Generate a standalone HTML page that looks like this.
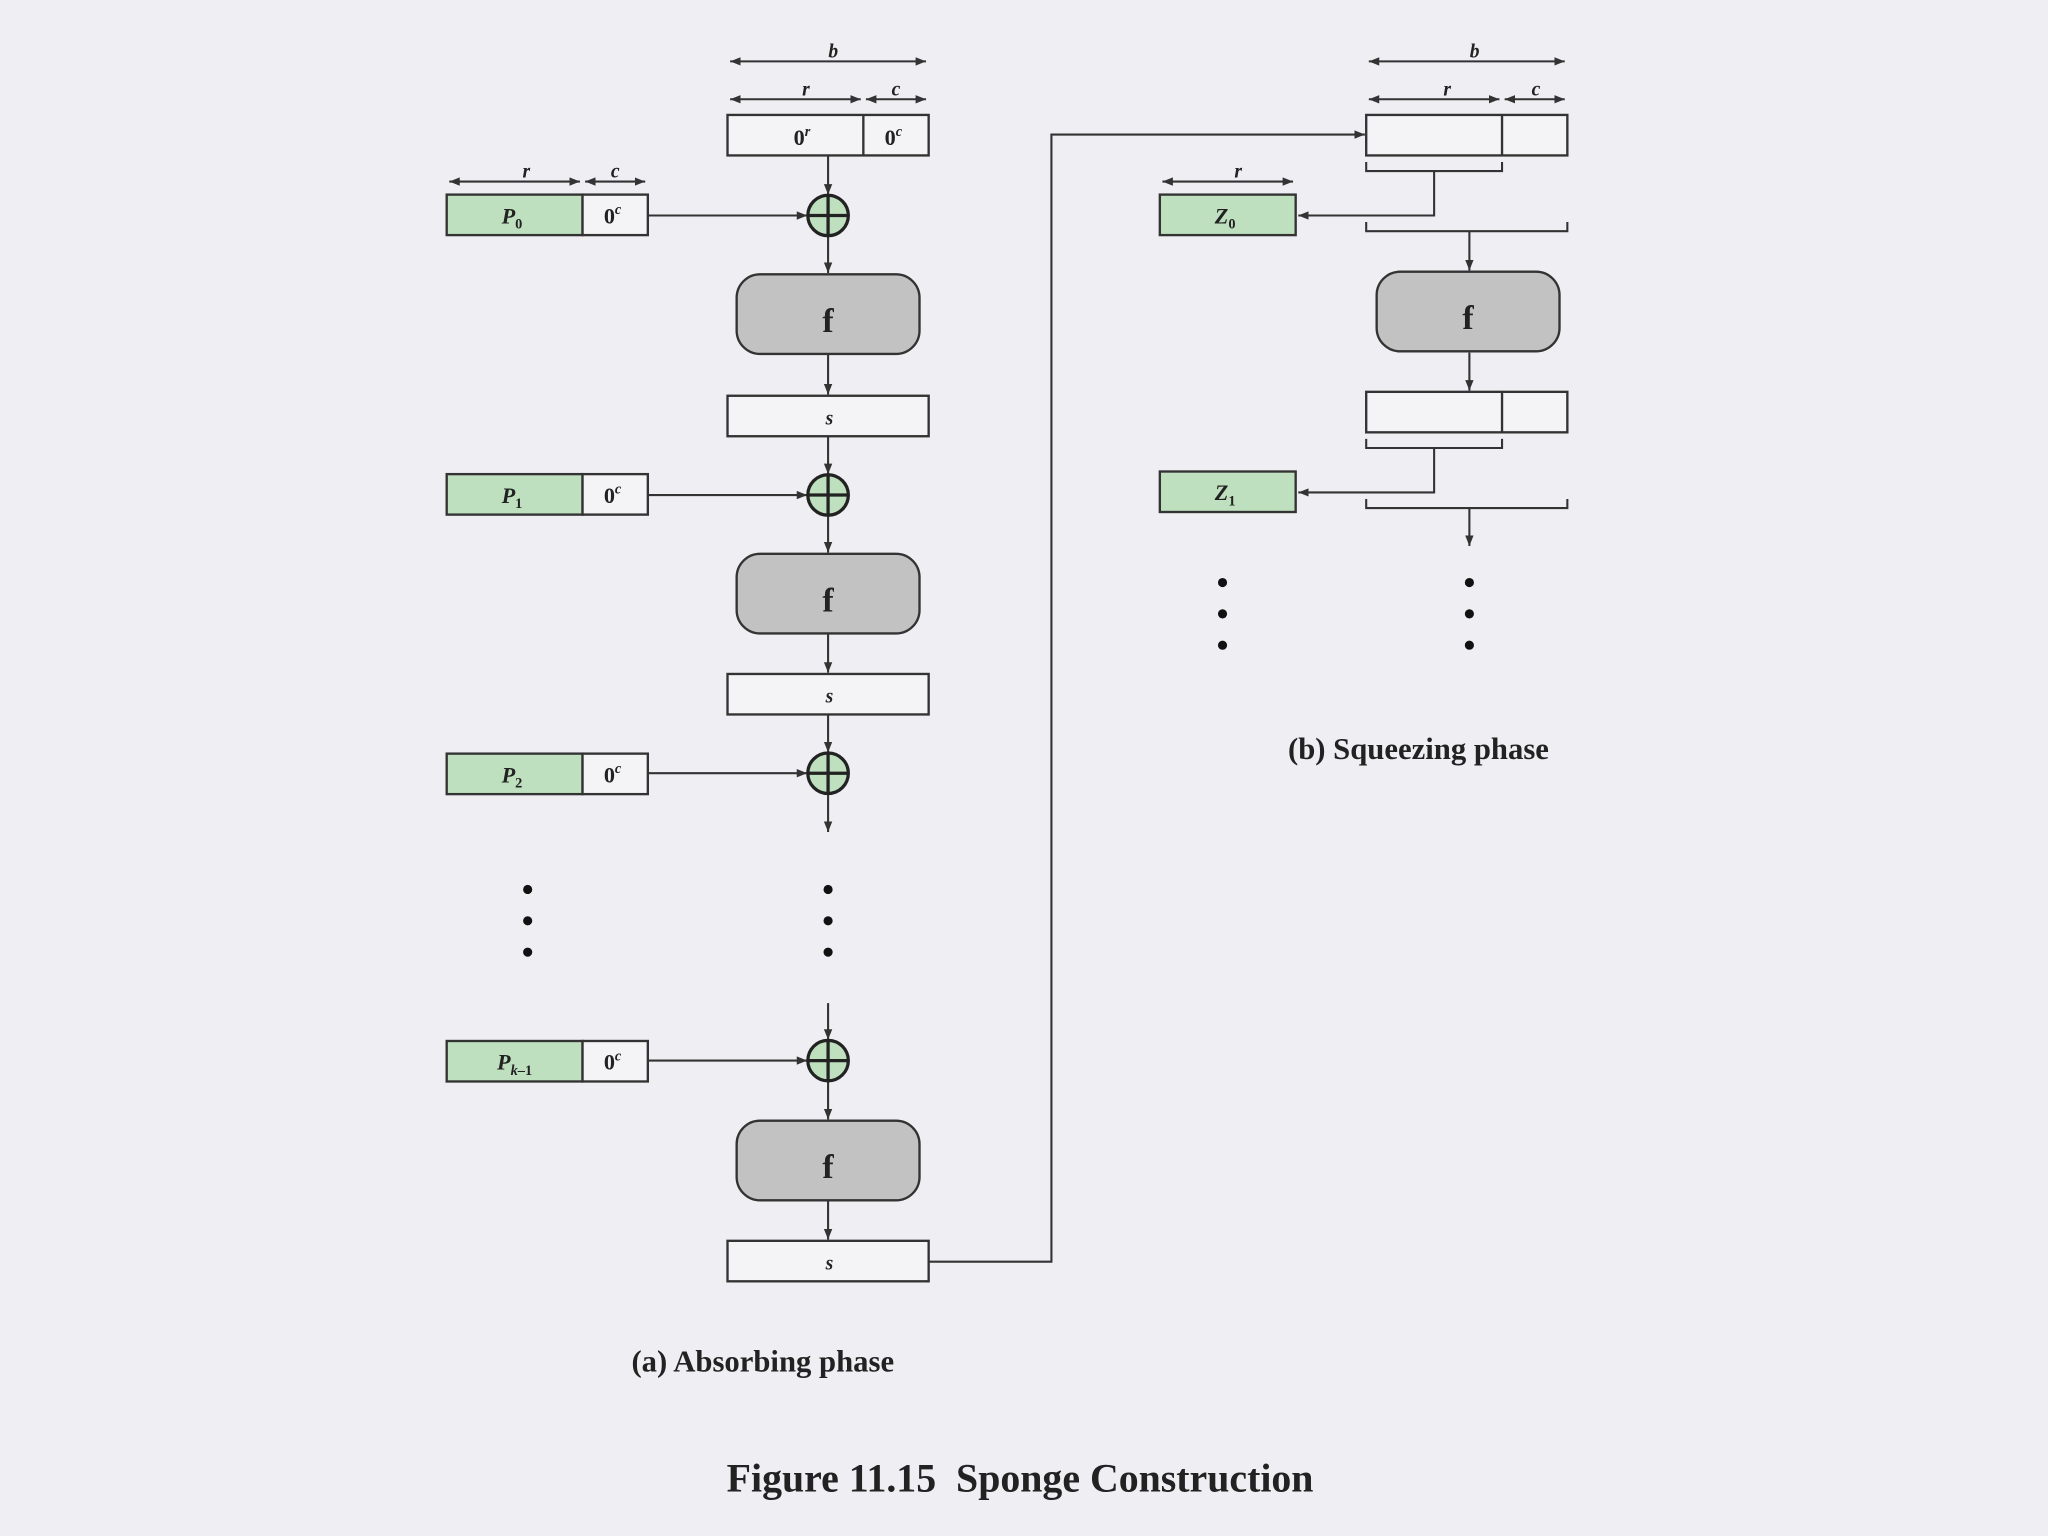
<!DOCTYPE html>
<html><head><meta charset="utf-8"><style>
html,body{margin:0;padding:0;background:#efeff3;}
svg{display:block;}
text{font-family:"Liberation Serif",serif;fill:#222;}
</style></head><body>
<svg width="2048" height="1536" viewBox="0 0 1568 1176" xmlns="http://www.w3.org/2000/svg">
<defs>
<marker id="a" viewBox="0 0 10 10" refX="10" refY="5" markerWidth="8" markerHeight="8" orient="auto-start-reverse" markerUnits="userSpaceOnUse"><path d="M0,1 L10,5 L0,9 z" fill="#333"/></marker>
<g id="xor"><circle r="15.5" fill="#bfe0bf" stroke="#222" stroke-width="2.5"/><path d="M-15.5,0H15.5M0,-15.5V15.5" stroke="#222" stroke-width="2.5"/></g>
<g id="fbox"><rect x="0" y="0" width="140" height="61" rx="18" fill="#c2c2c2" stroke="#333" stroke-width="1.8"/><text x="70" y="44" font-size="26" font-weight="bold" text-anchor="middle">f</text></g>
<g id="sbox"><rect x="0" y="0" width="154" height="31" fill="#f4f4f6" stroke="#333" stroke-width="1.8"/><text x="78" y="22" font-size="15" font-style="italic" font-weight="bold" text-anchor="middle">s</text></g>
</defs>
<rect width="1568" height="1176" fill="#efeff3"/>
<g stroke="#333" stroke-width="1.6" fill="none">
<line x1="559" y1="47" x2="709" y2="47" marker-start="url(#a)" marker-end="url(#a)"/>
<line x1="559" y1="76" x2="659" y2="76" marker-start="url(#a)" marker-end="url(#a)"/>
<line x1="663" y1="76" x2="709" y2="76" marker-start="url(#a)" marker-end="url(#a)"/>
<line x1="344" y1="139" x2="444" y2="139" marker-start="url(#a)" marker-end="url(#a)"/>
<line x1="448" y1="139" x2="494" y2="139" marker-start="url(#a)" marker-end="url(#a)"/>
<line x1="634" y1="119" x2="634" y2="149" marker-end="url(#a)"/>
<line x1="634" y1="181" x2="634" y2="209" marker-end="url(#a)"/>
<line x1="634" y1="271" x2="634" y2="302" marker-end="url(#a)"/>
<line x1="634" y1="334" x2="634" y2="363" marker-end="url(#a)"/>
<line x1="634" y1="395" x2="634" y2="423" marker-end="url(#a)"/>
<line x1="634" y1="485" x2="634" y2="515" marker-end="url(#a)"/>
<line x1="634" y1="547" x2="634" y2="576" marker-end="url(#a)"/>
<line x1="634" y1="608" x2="634" y2="637" marker-end="url(#a)"/>
<line x1="634" y1="768" x2="634" y2="796" marker-end="url(#a)"/>
<line x1="634" y1="828" x2="634" y2="857" marker-end="url(#a)"/>
<line x1="634" y1="919" x2="634" y2="949" marker-end="url(#a)"/>
<line x1="496" y1="165" x2="618" y2="165" marker-end="url(#a)"/>
<line x1="496" y1="379" x2="618" y2="379" marker-end="url(#a)"/>
<line x1="496" y1="592" x2="618" y2="592" marker-end="url(#a)"/>
<line x1="496" y1="812" x2="618" y2="812" marker-end="url(#a)"/>
<polyline points="711,966 805,966 805,103 1045,103" marker-end="url(#a)"/>
<line x1="1048" y1="47" x2="1198" y2="47" marker-start="url(#a)" marker-end="url(#a)"/>
<line x1="1048" y1="76" x2="1148" y2="76" marker-start="url(#a)" marker-end="url(#a)"/>
<line x1="1152" y1="76" x2="1198" y2="76" marker-start="url(#a)" marker-end="url(#a)"/>
<line x1="890" y1="139" x2="990" y2="139" marker-start="url(#a)" marker-end="url(#a)"/>
<polyline points="1046,124 1046,131 1150,131 1150,124"/>
<polyline points="1098,131 1098,165 994,165" marker-end="url(#a)"/>
<polyline points="1046,170 1046,177 1200,177 1200,170"/>
<line x1="1125" y1="177" x2="1125" y2="207" marker-end="url(#a)"/>
<line x1="1125" y1="270" x2="1125" y2="299" marker-end="url(#a)"/>
<polyline points="1046,336 1046,343 1150,343 1150,336"/>
<polyline points="1098,343 1098,377 994,377" marker-end="url(#a)"/>
<polyline points="1046,382 1046,389 1200,389 1200,382"/>
<line x1="1125" y1="389" x2="1125" y2="418" marker-end="url(#a)"/>
</g>
<g font-style="italic" font-weight="bold" font-size="15" text-anchor="middle">
<text x="638" y="44">b</text><text x="617" y="73">r</text><text x="686" y="73">c</text>
<text x="403" y="136">r</text><text x="471" y="136">c</text>
<text x="1129" y="44">b</text><text x="1108" y="73">r</text><text x="1176" y="73">c</text>
<text x="948" y="136">r</text>
</g>
<rect x="557" y="88" width="154" height="31" fill="#f4f4f6" stroke="#333" stroke-width="1.8"/>
<line x1="661" y1="88" x2="661" y2="119" stroke="#333" stroke-width="1.8"/>
<text x="614" y="111" font-size="17" font-weight="bold" text-anchor="middle">0<tspan font-size="11" dy="-7" font-style="italic">r</tspan></text>
<text x="684" y="111" font-size="17" font-weight="bold" text-anchor="middle">0<tspan font-size="11" dy="-7" font-style="italic">c</tspan></text>
<g font-weight="bold">
<g transform="translate(342,149)"><rect width="104" height="31" fill="#bfe0bf" stroke="#333" stroke-width="1.8"/><rect x="104" width="50" height="31" fill="#f4f4f6" stroke="#333" stroke-width="1.8"/><text x="50" y="22" font-size="17" font-style="italic" text-anchor="middle">P<tspan font-size="11" dy="4" font-style="normal">0</tspan></text><text x="127" y="22" font-size="17" text-anchor="middle">0<tspan font-size="11" dy="-7" font-style="italic">c</tspan></text></g>
<g transform="translate(342,363)"><rect width="104" height="31" fill="#bfe0bf" stroke="#333" stroke-width="1.8"/><rect x="104" width="50" height="31" fill="#f4f4f6" stroke="#333" stroke-width="1.8"/><text x="50" y="22" font-size="17" font-style="italic" text-anchor="middle">P<tspan font-size="11" dy="4" font-style="normal">1</tspan></text><text x="127" y="22" font-size="17" text-anchor="middle">0<tspan font-size="11" dy="-7" font-style="italic">c</tspan></text></g>
<g transform="translate(342,577)"><rect width="104" height="31" fill="#bfe0bf" stroke="#333" stroke-width="1.8"/><rect x="104" width="50" height="31" fill="#f4f4f6" stroke="#333" stroke-width="1.8"/><text x="50" y="22" font-size="17" font-style="italic" text-anchor="middle">P<tspan font-size="11" dy="4" font-style="normal">2</tspan></text><text x="127" y="22" font-size="17" text-anchor="middle">0<tspan font-size="11" dy="-7" font-style="italic">c</tspan></text></g>
<g transform="translate(342,797)"><rect width="104" height="31" fill="#bfe0bf" stroke="#333" stroke-width="1.8"/><rect x="104" width="50" height="31" fill="#f4f4f6" stroke="#333" stroke-width="1.8"/><text x="52" y="22" font-size="17" font-style="italic" text-anchor="middle">P<tspan font-size="11" dy="4">k</tspan><tspan font-size="11" font-style="normal">–1</tspan></text><text x="127" y="22" font-size="17" text-anchor="middle">0<tspan font-size="11" dy="-7" font-style="italic">c</tspan></text></g>
</g>
<use href="#xor" x="634" y="165"/><use href="#xor" x="634" y="379"/><use href="#xor" x="634" y="592"/><use href="#xor" x="634" y="812"/>
<use href="#fbox" x="564" y="210"/><use href="#fbox" x="564" y="424"/><use href="#fbox" x="564" y="858"/>
<use href="#sbox" x="557" y="303"/><use href="#sbox" x="557" y="516"/><use href="#sbox" x="557" y="950"/>
<rect x="1046" y="88" width="154" height="31" fill="#f4f4f6" stroke="#333" stroke-width="1.8"/>
<line x1="1150" y1="88" x2="1150" y2="119" stroke="#333" stroke-width="1.8"/>
<rect x="1046" y="300" width="154" height="31" fill="#f4f4f6" stroke="#333" stroke-width="1.8"/>
<line x1="1150" y1="300" x2="1150" y2="331" stroke="#333" stroke-width="1.8"/>
<use href="#fbox" x="1054" y="208"/>
<g font-weight="bold">
<g transform="translate(888,149)"><rect width="104" height="31" fill="#bfe0bf" stroke="#333" stroke-width="1.8"/><text x="50" y="22" font-size="17" font-style="italic" text-anchor="middle">Z<tspan font-size="11" dy="4" font-style="normal">0</tspan></text></g>
<g transform="translate(888,361)"><rect width="104" height="31" fill="#bfe0bf" stroke="#333" stroke-width="1.8"/><text x="50" y="22" font-size="17" font-style="italic" text-anchor="middle">Z<tspan font-size="11" dy="4" font-style="normal">1</tspan></text></g>
</g>
<g fill="#111">
<circle cx="404" cy="681" r="3.5"/><circle cx="404" cy="705" r="3.5"/><circle cx="404" cy="729" r="3.5"/>
<circle cx="634" cy="681" r="3.5"/><circle cx="634" cy="705" r="3.5"/><circle cx="634" cy="729" r="3.5"/>
<circle cx="936" cy="446" r="3.5"/><circle cx="936" cy="470" r="3.5"/><circle cx="936" cy="494" r="3.5"/>
<circle cx="1125" cy="446" r="3.5"/><circle cx="1125" cy="470" r="3.5"/><circle cx="1125" cy="494" r="3.5"/>
</g>
<text x="1086" y="581" font-size="23.5" font-weight="bold" text-anchor="middle">(b) Squeezing phase</text>
<text x="584" y="1050" font-size="23.5" font-weight="bold" text-anchor="middle">(a) Absorbing phase</text>
<text x="781" y="1142" font-size="30.5" font-weight="bold" text-anchor="middle" xml:space="preserve">Figure 11.15  Sponge Construction</text>
</svg>
</body></html>
